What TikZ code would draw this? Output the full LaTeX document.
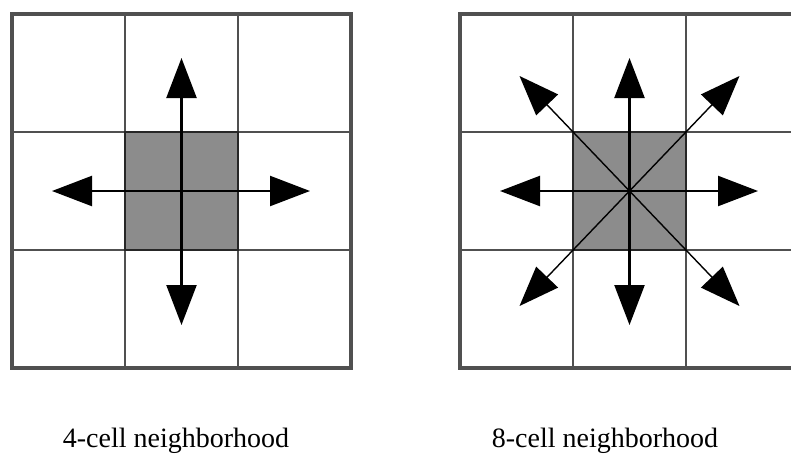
\documentclass[tikz,border=0pt]{standalone}
\usepackage{fontspec}
\setmainfont{Liberation Serif}
\usetikzlibrary{arrows.meta}
\definecolor{gridgray}{RGB}{80,80,80}
\definecolor{cellgray}{RGB}{140,140,140}

\begin{document}
\begin{tikzpicture}[x=1pt, y=-1pt,
        cell/.style={rectangle, draw=gridgray, line width=2.8pt, minimum width=113pt, minimum height=118pt, inner sep=0pt, outer sep=0pt},
        frame/.style={draw=gridgray, line width=3.5pt},
        arrow/.style={-{Triangle[length=40pt, width=30pt]}, line width=2.3pt},
        diag/.style={-{Triangle[length=40pt, width=30pt]}, line width=1.4pt},
        caption/.style={anchor=base, font=\fontsize{28}{30}\selectfont}
    ]
        \useasboundingbox (0,0) rectangle (791,456);
        \clip (0,0) rectangle (791,456);

        % 4-cell grid
        \foreach \i in {1,2,3}
            \foreach \j in {1,2,3} {
                \ifnum\i\j=22 \def\cellfill{cellgray}\else\def\cellfill{white}\fi
                \node[cell, fill=\cellfill] (a\i\j) at ({12+113*(\i-0.5)}, {14+118*(\j-0.5)}) {};
            }
        \draw[cell, draw=black!85] (a22.north west) rectangle (a22.south east);
        \draw[frame] (a11.north west) rectangle (a33.south east);

        % 8-cell grid
        \foreach \i in {1,2,3}
            \foreach \j in {1,2,3} {
                \ifnum\i\j=22 \def\cellfill{cellgray}\else\def\cellfill{white}\fi
                \node[cell, fill=\cellfill] (b\i\j) at ({460+113*(\i-0.5)}, {14+118*(\j-0.5)}) {};
            }
        \draw[cell, draw=black!85] (b22.north west) rectangle (b22.south east);
        \draw[frame] (b11.north west) rectangle (b33.south east);

        % arrow ends
        \coordinate (aN) at (181.5,58);
        \coordinate (aS) at (181.5,325);
        \coordinate (aW) at (52,191);
        \coordinate (aE) at (310,191);

        \coordinate (bN) at (629.5,58);
        \coordinate (bS) at (629.5,325);
        \coordinate (bW) at (500,191);
        \coordinate (bE) at (758,191);
        \coordinate (bNW) at (519.5,76);
        \coordinate (bNE) at (739.5,76);
        \coordinate (bSW) at (519.5,306);
        \coordinate (bSE) at (739.5,306);

        \draw[arrow] (a22.center) -- (aN);
        \draw[arrow] (a22.center) -- (aS);
        \draw[arrow] (a22.center) -- (aW);
        \draw[arrow] (a22.center) -- (aE);

        \draw[arrow] (b22.center) -- (bN);
        \draw[arrow] (b22.center) -- (bS);
        \draw[arrow] (b22.center) -- (bW);
        \draw[arrow] (b22.center) -- (bE);
        \draw[diag] (b22.center) -- (bNW);
        \draw[diag] (b22.center) -- (bNE);
        \draw[diag] (b22.center) -- (bSW);
        \draw[diag] (b22.center) -- (bSE);

        % captions
        \node[caption] (cap4) at (176,447) {4-cell neighborhood};
        \node[caption] (cap8) at (605,447) {8-cell neighborhood};
    \end{tikzpicture}
\end{document}
